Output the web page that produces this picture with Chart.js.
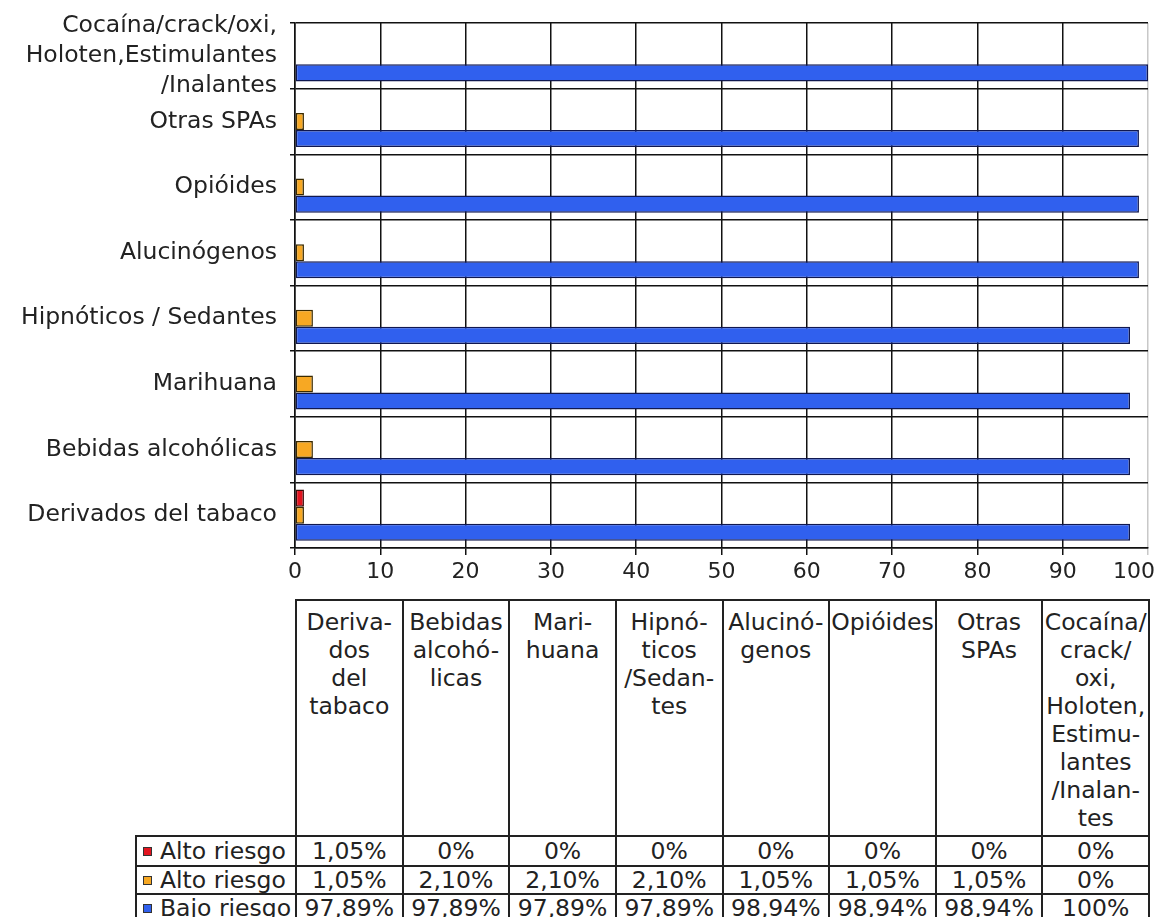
<!DOCTYPE html>
<html>
<head>
<meta charset="utf-8">
<script src="https://cdn.jsdelivr.net/npm/chart.js@4.4.0/dist/chart.umd.min.js"></script>
<style>
  body { margin: 0; background: #fff; font-family: "DejaVu Sans", Verdana, sans-serif; color: #222; }
  #wrap { position: relative; width: 1163px; height: 917px; overflow: hidden; }
  #grafico { position: absolute; left: 0; top: 0; }
  #tabla { position: absolute; top: 599px; left: 135px; border-collapse: collapse; table-layout: fixed; font-size: 23.5px; }
  #tabla td { border: 2px solid #222; padding: 0; text-align: center; white-space: nowrap; overflow: hidden; line-height: 26px; }
  #tabla td.vacio { border: none; }
  #tabla td.cabecera { vertical-align: top; padding-top: 7px; line-height: 28px; }
  #tabla td.serie { text-align: left; padding-left: 6px; }
  .cuadro { display: inline-block; width: 7px; height: 7px; border: 1px solid #333; margin-right: 8px; vertical-align: middle; position: relative; top: -1px; }
</style>
</head>
<body>
<div id="wrap">
  <canvas id="grafico" width="1163" height="599"></canvas>
  <table id="tabla"></table>
</div>
<script>
// Datos del grafico (orden de la tabla, de abajo hacia arriba en el grafico)
const categorias = [
  "Derivados del tabaco",
  "Bebidas alcohólicas",
  "Marihuana",
  "Hipnóticos / Sedantes",
  "Alucinógenos",
  "Opióides",
  "Otras SPAs",
  ["Cocaína/crack/oxi,", "Holoten,Estimulantes", "/Inalantes"]
];
// Encabezados de la tabla, ya cortados en lineas como en la imagen
const encabezados = [
  ["Deriva-", "dos", "del", "tabaco"],
  ["Bebidas", "alcohó-", "licas"],
  ["Mari-", "huana"],
  ["Hipnó-", "ticos", "/Sedan-", "tes"],
  ["Alucinó-", "genos"],
  ["Opióides"],
  ["Otras", "SPAs"],
  ["Cocaína/", "crack/", "oxi,", "Holoten,", "Estimu-", "lantes", "/Inalan-", "tes"]
];
const nombresSeries = ["Alto riesgo", "Alto riesgo", "Bajo riesgo"];
const altoRiesgoRojo = [1.05, 0, 0, 0, 0, 0, 0, 0];
const altoRiesgoNaranja = [1.05, 2.10, 2.10, 2.10, 1.05, 1.05, 1.05, 0];
const bajoRiesgo = [97.89, 97.89, 97.89, 97.89, 98.94, 98.94, 98.94, 100];
const ticksX = [0, 10, 20, 30, 40, 50, 60, 70, 80, 90, 100];

const coloresSeries = ["#e3141f", "#f7a823", "#3060ee"];
const bordesSeries = ["#3a0a0a", "#3a2a00", "#101850"];

Chart.defaults.font.family = "'DejaVu Sans', Verdana, sans-serif";
Chart.defaults.color = "#222";

function armarDataset(indice, valores) {
  return {
    label: nombresSeries[indice],
    data: valores,
    backgroundColor: coloresSeries[indice],
    borderColor: bordesSeries[indice],
    borderWidth: 1.5,
    borderSkipped: false,
    categoryPercentage: 0.78,
    barPercentage: 1.0
  };
}

const grafico = new Chart(document.getElementById("grafico"), {
  type: "bar",
  data: {
    labels: categorias,
    datasets: [
      armarDataset(0, altoRiesgoRojo),
      armarDataset(1, altoRiesgoNaranja),
      armarDataset(2, bajoRiesgo)
    ]
  },
  options: {
    indexAxis: "y",
    responsive: false,
    devicePixelRatio: 1,
    animation: false,
    layout: { padding: { top: 23, left: 0, right: 0, bottom: 0 } },
    plugins: { legend: { display: false }, tooltip: { enabled: false } },
    scales: {
      x: {
        min: 0,
        max: 100,
        afterBuildTicks: (eje) => { eje.ticks = ticksX.map(v => ({ value: v })); },
        ticks: {
          font: { size: 22 },
          padding: 4,
          autoSkip: false,
          maxRotation: 0,
          // el ultimo rotulo queda corrido hacia adentro como en la imagen
          callback: (v) => v === 100 ? "100\u00a0\u00a0\u00a0\u00a0" : String(v)
        },
        grid: {
          color: (ctx) => ctx.tick && ctx.tick.value === 100 ? "#c8c8c8" : "#111",
          lineWidth: 1.5,
          tickLength: 7
        },
        border: { color: "#111", width: 1.5 },
        afterFit: (eje) => { eje.height = 51; eje.paddingRight = 15; eje.paddingLeft = 0; }
      },
      y: {
        reverse: true,
        ticks: {
          font: { size: 23.5, lineHeight: 1.26 },
          padding: 13,
          autoSkip: false
        },
        grid: { color: "#111", lineWidth: 1.5, tickLength: 5, offset: true },
        border: { color: "#111", width: 1.5 },
        afterFit: (eje) => { eje.width = 295; eje.paddingTop = 0; eje.paddingBottom = 0; }
      }
    }
  }
});

// Formato de porcentaje con coma decimal
function formatoPorcentaje(valor) {
  if (Number.isInteger(valor)) return valor + "%";
  return valor.toFixed(2).replace(".", ",") + "%";
}

// Tabla de datos alineada con el area del grafico
function armarTabla() {
  const area = grafico.chartArea;
  const tabla = document.getElementById("tabla");
  const anchoColumna = (area.right - area.left) / categorias.length;
  const anchoRotulo = area.left - 135;
  let html = `<colgroup><col style="width:${anchoRotulo}px">`;
  for (let i = 0; i < categorias.length; i++) {
    html += `<col style="width:${anchoColumna}px">`;
  }
  html += `</colgroup><tr style="height:236px"><td class="vacio"></td>`;
  for (const enc of encabezados) {
    html += `<td class="cabecera">${enc.join("<br>")}</td>`;
  }
  html += `</tr>`;
  const series = [altoRiesgoRojo, altoRiesgoNaranja, bajoRiesgo];
  const altos = [30, 28, 28];
  series.forEach((valores, s) => {
    html += `<tr style="height:${altos[s]}px"><td class="serie"><span class="cuadro" style="background:${coloresSeries[s]}"></span>${nombresSeries[s]}</td>`;
    for (const v of valores) {
      html += `<td>${formatoPorcentaje(v)}</td>`;
    }
    html += `</tr>`;
  });
  tabla.innerHTML = html;
}
armarTabla();
</script>
</body>
</html>
